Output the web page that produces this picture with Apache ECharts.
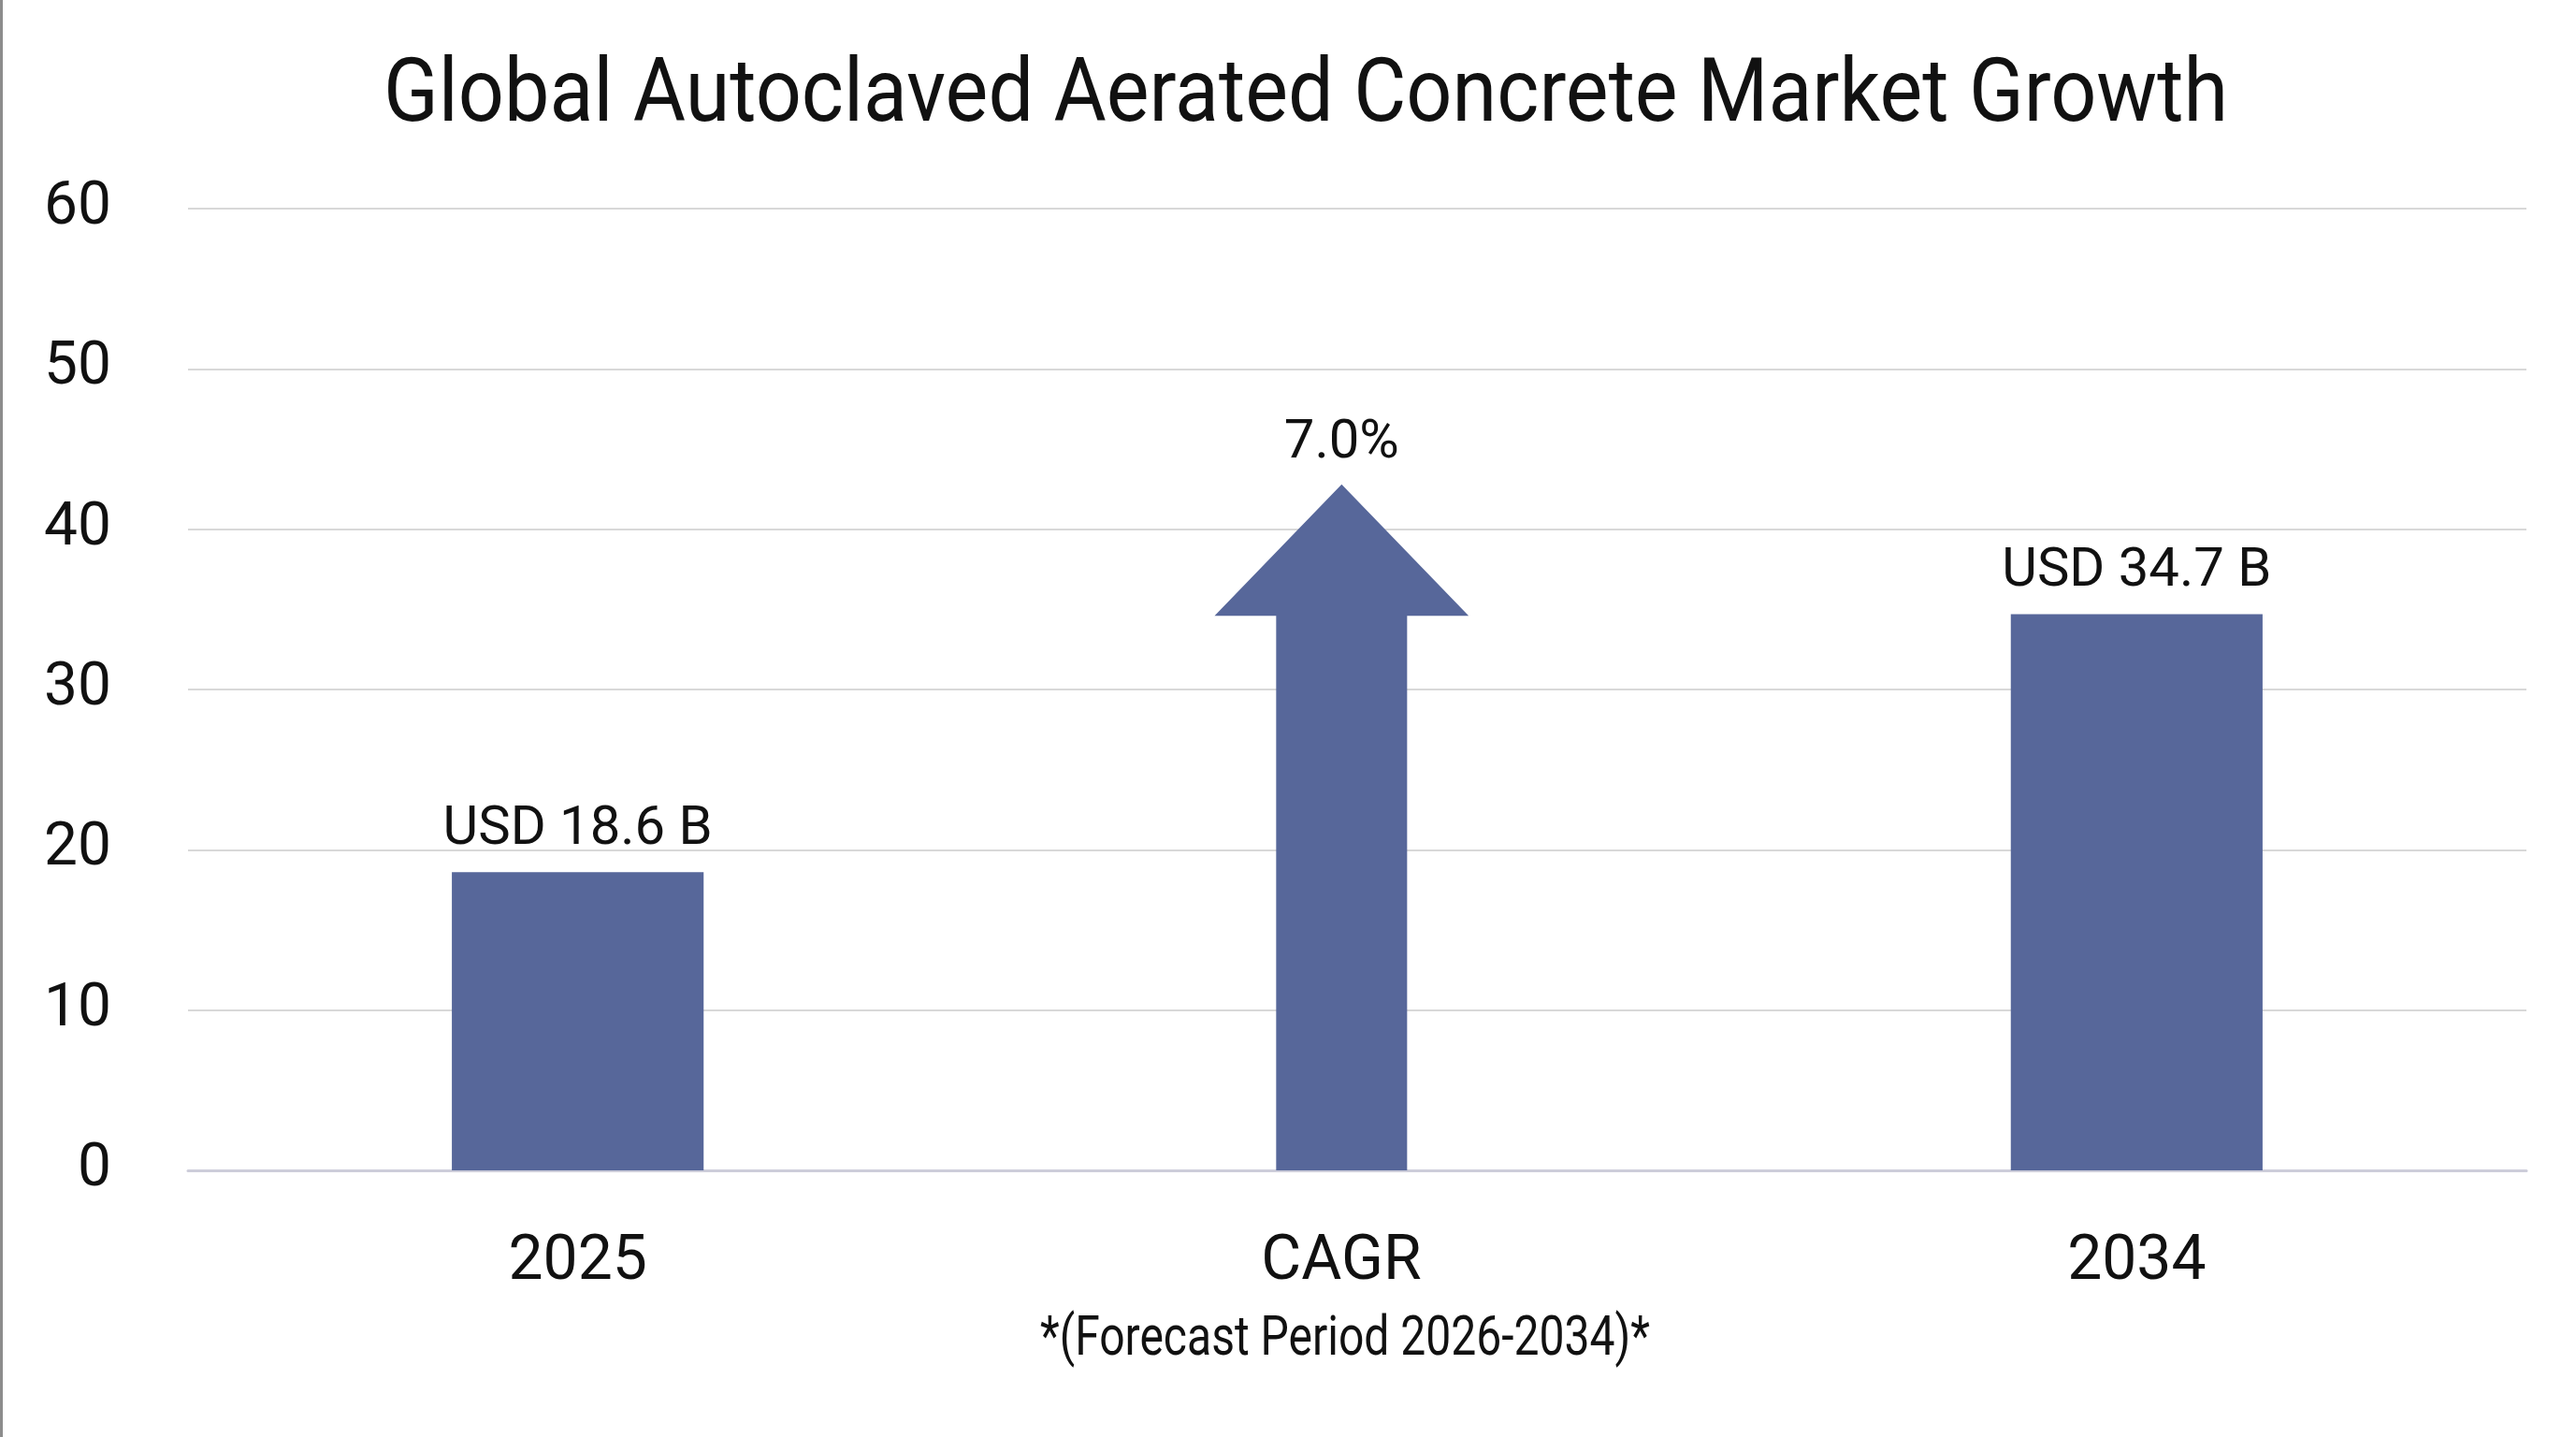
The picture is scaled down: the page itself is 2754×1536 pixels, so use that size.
<!DOCTYPE html>
<html>
<head>
<meta charset="utf-8">
<script src="https://cdn.jsdelivr.net/npm/echarts@6/dist/echarts.min.js"></script>
<style>
html,body{margin:0;padding:0;background:#fff;}
#c{width:2754px;height:1536px;box-sizing:border-box;border-left:3px solid #8c8c8c;}
</style>
</head>
<body>
<div id="c"></div>
<script>
const titleText = 'Global Autoclaved Aerated Concrete Market Growth';
const footnote = '*(Forecast Period 2026-2034)*';
const categories = ['2025', 'CAGR', '2034'];
const marketValues = [18.6, '-', 34.7];
const marketLabels = ['USD 18.6 B', '', 'USD 34.7 B'];
const cagrIndex = 1;
const cagrArrowTip = 42.8;
const cagrArrowHeadBase = 34.6;
const cagrLabel = '7.0%';
const yTicks = [0, 10, 20, 30, 40, 50, 60];

const barColor = '#57679a';

// condensed look: measure text and squeeze horizontally to the reference width
function squeeze(text, font, target) {
  const ctx = document.createElement('canvas').getContext('2d');
  ctx.font = font;
  const w = ctx.measureText(text).width;
  return Math.min(1, target / w);
}
const titleFont = {size: 94, family: 'Roboto'};
const noteFont = {size: 60, family: 'Roboto'};
const titleScale = squeeze(titleText, titleFont.size + 'px Roboto', 1972);
const noteScale = squeeze(footnote, noteFont.size + 'px Roboto', 652);

const categoryData = categories.map((c, i) =>
  i === cagrIndex ? {value: c, textStyle: {padding: [0, 34, 0, 0]}} : c);

const chart = echarts.init(document.getElementById('c'), null, {renderer: 'canvas'});
chart.setOption({
  backgroundColor: '#fff',
  animation: false,
  graphic: [
    {
      type: 'text',
      x: 1393, y: 105,
      scaleX: titleScale,
      style: {text: titleText, align: 'center', verticalAlign: 'middle',
        fontFamily: titleFont.family, fontSize: titleFont.size, fill: '#111'}
    },
    {
      type: 'text',
      x: 1435, y: 1433,
      scaleX: noteScale,
      style: {text: footnote, align: 'center', verticalAlign: 'middle',
        fontFamily: noteFont.family, fontSize: noteFont.size, fill: '#111'}
    }
  ],
  grid: {left: 198, right: 53, top: 223, bottom: 285, containLabel: false},
  xAxis: {
    type: 'category',
    data: categoryData,
    axisTick: {show: false},
    axisLine: {show: true, lineStyle: {color: '#cdcdda', width: 3}},
    axisLabel: {fontFamily: 'Roboto', fontSize: 66, color: '#111', margin: 66}
  },
  yAxis: {
    type: 'value',
    min: yTicks[0],
    max: yTicks[yTicks.length - 1],
    interval: 10,
    axisLine: {show: false},
    axisTick: {show: false},
    splitLine: {lineStyle: {color: '#d8d8d8', width: 2}},
    axisLabel: {fontFamily: 'Roboto', fontSize: 64, color: '#111', margin: 82, padding: [6, 0, 0, 0]}
  },
  series: [
    {
      type: 'bar',
      data: marketValues,
      barWidth: '32.3%',
      itemStyle: {color: barColor},
      label: {
        show: true,
        position: 'top',
        distance: 16,
        fontFamily: 'Roboto',
        fontSize: 58,
        color: '#111',
        formatter: p => marketLabels[p.dataIndex]
      }
    },
    {
      type: 'custom',
      data: [[cagrIndex, cagrArrowTip, cagrArrowHeadBase]],
      renderItem: function (params, api) {
        const x = api.value(0);
        const tip = api.coord([x, api.value(1)]);
        const head = api.coord([x, api.value(2)]);
        const base = api.coord([x, 0]);
        const band = api.size([1, 0])[0];
        const shaftHalf = band * 0.084;
        const headHalf = band * 0.163;
        const cx = tip[0] - band * 0.02;
        return {
          type: 'group',
          children: [
            {
              type: 'polygon',
              shape: {points: [
                [cx - shaftHalf, base[1]],
                [cx - shaftHalf, head[1]],
                [cx - headHalf, head[1]],
                [cx, tip[1]],
                [cx + headHalf, head[1]],
                [cx + shaftHalf, head[1]],
                [cx + shaftHalf, base[1]]
              ]},
              style: {fill: barColor}
            },
            {
              type: 'text',
              style: {
                text: cagrLabel,
                x: cx,
                y: tip[1] - 14,
                align: 'center',
                verticalAlign: 'bottom',
                fontFamily: 'Roboto',
                fontSize: 58,
                fill: '#111'
              }
            }
          ]
        };
      }
    }
  ]
});
</script>
</body>
</html>
